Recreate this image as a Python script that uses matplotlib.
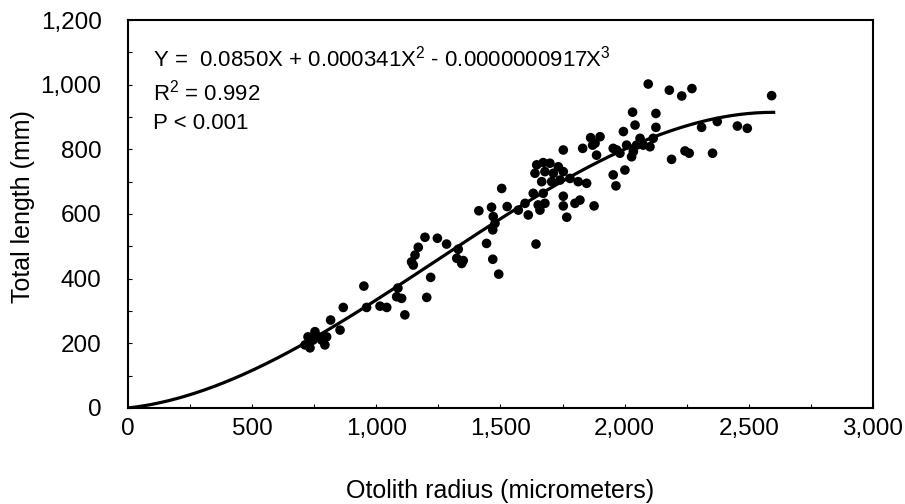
import numpy as np
import matplotlib
matplotlib.use("Agg")
import matplotlib.pyplot as plt
from matplotlib.ticker import FuncFormatter, MultipleLocator

plt.rcParams['font.family'] = ['Liberation Sans', 'DejaVu Sans']
plt.rcParams['mathtext.fontset'] = 'custom'
plt.rcParams['mathtext.rm'] = 'Liberation Sans'

# otolith radius (micrometers) and total length (mm)
radius = [713, 725, 733, 745, 753, 766, 780, 793, 800, 816, 854, 867, 950, 961,
          1015, 1042, 1082, 1087, 1102, 1115,
          1203, 1219, 1142, 1149, 1156, 1169, 1196, 1246, 1283, 1330, 1324, 1344,
          1350, 1444, 1469, 1493, 1413, 1464, 1471, 1478, 1469, 1527, 1572,
          1505, 1659,
          1643, 1753, 1831, 1881, 1887, 1646, 1672, 1699, 1733, 1639, 1679, 1713,
          1753, 1666, 1706, 1780, 1813, 1847, 1740, 1632, 1672, 1599, 1612, 1652,
          1679, 1753, 1753, 1767, 1800, 1820, 1877, 1954, 1965, 2001, 1968, 2008,
          2035, 2028,
          2095, 2180, 2230, 2271, 2592, 2032, 2126, 2042, 2126, 2310, 2373, 2454,
          2494, 2189, 2243, 2260, 2354, 2062, 2075, 2102, 2115, 2048,
          1863, 1901, 1871, 1995, 1954, 1981]
length = [195, 220, 186, 210, 236, 220, 210, 195, 220, 272, 241, 311, 377, 311,
          315, 311, 344, 371, 339, 288,
          342, 404, 452, 442, 473, 497, 528, 525, 507, 491, 463, 447,
          456, 509, 460, 414, 610, 621, 592, 571, 551, 623, 612,
          679, 612,
          507, 798, 803, 819, 782, 752, 759, 757, 746, 726, 731, 726,
          731, 700, 700, 710, 700, 695, 705, 664, 664, 633, 597, 628,
          633, 655, 625, 590, 633, 643, 625, 721, 687, 736, 798, 813,
          793, 777,
          1002, 983, 965, 988, 966, 915, 911, 875, 868, 868, 886, 872,
          865, 769, 795, 788, 788, 834, 813, 808, 834, 813,
          836, 839, 813, 855, 803, 788]

# fitted cubic through the origin: Y = b1*X + b2*X^2 + b3*X^3
coef = [-0.0000000917, 0.000341, 0.0850, 0.0]
fit_max = 2600

fig = plt.figure(figsize=(9.05, 5.04), dpi=100)
ax = fig.add_axes([0.1414, 0.1905, 0.8232, 0.7698])

xs = np.linspace(0, fit_max, 400)
ax.plot(xs, np.polyval(coef, xs), color='black', lw=2.3, zorder=2)
ax.scatter(radius, length, s=48, color='black', edgecolors='none', zorder=3)

ax.set_xlim(0, 3000)
ax.set_ylim(0, 1200)
ax.xaxis.set_major_locator(MultipleLocator(500))
ax.yaxis.set_major_locator(MultipleLocator(200))
ax.xaxis.set_minor_locator(MultipleLocator(250))
ax.yaxis.set_minor_locator(MultipleLocator(100))
comma = FuncFormatter(lambda v, p: f"{int(v):,}")
ax.xaxis.set_major_formatter(comma)
ax.yaxis.set_major_formatter(comma)
ax.tick_params(which='both', direction='in', length=3, width=0.8, labelsize=17.5)
ax.tick_params(axis='y', pad=19)
ax.tick_params(axis='x', pad=7)
for s in ax.spines.values():
    s.set_linewidth(1.5)

ax.set_xlabel('Otolith radius (micrometers)', fontsize=18, labelpad=28)
ax.set_ylabel('Total length (mm)', fontsize=18, labelpad=4)
ax.yaxis.label.set_y(0.52)

ax.text(100, 1082, r'Y =  0.0850X + 0.000341X$\mathregular{^2}$ - 0.0000000917X$\mathregular{^3}$',
        fontsize=16, va='center')
ax.text(100, 977, r'R$\mathregular{^2}$ = 0.992', fontsize=16, va='center')
ax.text(100, 881, 'P < 0.001', fontsize=16, va='center')

fig.savefig('out.png', dpi=100)
